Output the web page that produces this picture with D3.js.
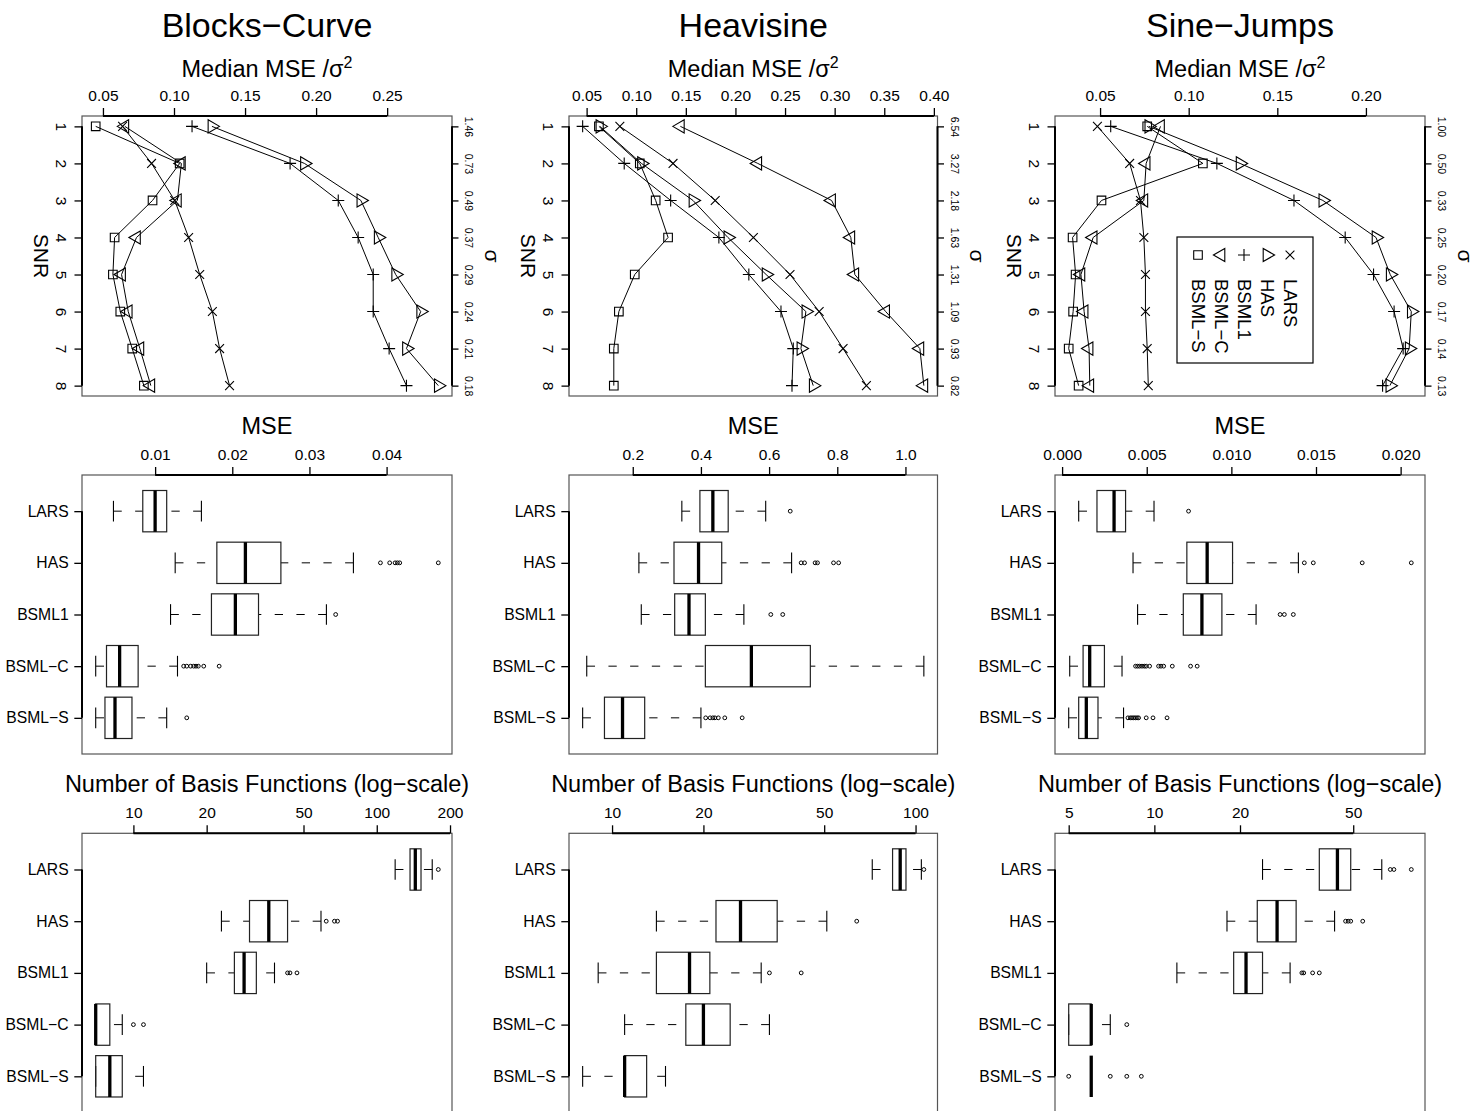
<!DOCTYPE html>
<html>
<head>
<meta charset="utf-8">
<script src="https://cdn.jsdelivr.net/npm/d3@7"></script>
<style>
  body { margin: 0; background: #fff; }
  svg { display: block; }
  text { font-family: "Liberation Sans", Arial, Helvetica, sans-serif; fill: #000; }
</style>
</head>
<body>
<svg id="chart" width="1479" height="1111"></svg>
<script>
// ---- data ----
var titles = ["Blocks−Curve", "Heavisine", "Sine−Jumps"];
var methods = ["LARS", "HAS", "BSML1", "BSML−C", "BSML−S"];
var snrLevels = [1, 2, 3, 4, 5, 6, 7, 8];

var sigmaBlocks = ["1.46", "0.73", "0.49", "0.37", "0.29", "0.24", "0.21", "0.18"];
var sigmaHeavi  = ["6.54", "3.27", "2.18", "1.63", "1.31", "1.09", "0.93", "0.82"];
var sigmaSine   = ["1.00", "0.50", "0.33", "0.25", "0.20", "0.17", "0.14", "0.13"];

// median MSE / sigma^2, one row per method (LARS, HAS, BSML1, BSML-C, BSML-S), SNR 1..8
var medBlocks = [
  [0.0638, 0.0842, 0.1005, 0.1103, 0.1181, 0.1270, 0.1321, 0.1391],
  [0.1267, 0.1918, 0.2315, 0.2437, 0.2560, 0.2736, 0.2636, 0.2860],
  [0.1127, 0.1817, 0.2156, 0.2296, 0.2402, 0.2402, 0.2514, 0.2636],
  [0.0654, 0.1052, 0.1024, 0.0736, 0.0631, 0.0678, 0.0760, 0.0837],
  [0.0449, 0.1040, 0.0849, 0.0582, 0.0570, 0.0622, 0.0706, 0.0788]
];
var medHeavi = [
  [0.0835, 0.1371, 0.1796, 0.2181, 0.2550, 0.2844, 0.3085, 0.3320],
  [0.0634, 0.1053, 0.1572, 0.1924, 0.2309, 0.2710, 0.2660, 0.2784],
  [0.0460, 0.0879, 0.1347, 0.1833, 0.2135, 0.2459, 0.2583, 0.2570],
  [0.1445, 0.2225, 0.2969, 0.3163, 0.3203, 0.3514, 0.3859, 0.3899],
  [0.0624, 0.1036, 0.1196, 0.1321, 0.0985, 0.0825, 0.0774, 0.0774]
];
var medSine = [
  [0.0485, 0.0667, 0.0728, 0.0747, 0.0756, 0.0756, 0.0766, 0.0772],
  [0.0775, 0.1290, 0.1757, 0.2057, 0.2137, 0.2256, 0.2244, 0.2135],
  [0.0560, 0.1159, 0.1594, 0.1883, 0.2043, 0.2159, 0.2210, 0.2094],
  [0.0841, 0.0760, 0.0747, 0.0461, 0.0392, 0.0410, 0.0438, 0.0442],
  [0.0766, 0.1080, 0.0508, 0.0345, 0.0362, 0.0348, 0.0323, 0.0379]
];
var medTicks = [
  [0.05, 0.10, 0.15, 0.20, 0.25],
  [0.05, 0.10, 0.15, 0.20, 0.25, 0.30, 0.35, 0.40],
  [0.05, 0.10, 0.15, 0.20]
];

// boxplot stats: [lower whisker, Q1, median, Q3, upper whisker]
var mseBlocks = [
  [0.0046, 0.0084, 0.0100, 0.0115, 0.0160],
  [0.0126, 0.0180, 0.0217, 0.0263, 0.0357],
  [0.0120, 0.0173, 0.0204, 0.0234, 0.0322],
  [0.0023, 0.0037, 0.0054, 0.0078, 0.0129],
  [0.0023, 0.0035, 0.0048, 0.0070, 0.0115]
];
var mseBlocksOut = [
  [],
  [0.0392, 0.0404, 0.0411, 0.0414, 0.0417, 0.0467],
  [0.0334],
  [0.0137, 0.0141, 0.0146, 0.0150, 0.0153, 0.0156, 0.0163, 0.0183],
  [0.0141]
];
var mseHeavi = [
  [0.344, 0.397, 0.435, 0.480, 0.590],
  [0.218, 0.321, 0.393, 0.461, 0.666],
  [0.225, 0.323, 0.365, 0.413, 0.526],
  [0.065, 0.413, 0.548, 0.721, 1.054],
  [0.053, 0.117, 0.170, 0.235, 0.400]
];
var mseHeaviOut = [
  [0.662],
  [0.694, 0.704, 0.735, 0.742, 0.789, 0.804],
  [0.605, 0.640],
  [],
  [0.414, 0.427, 0.435, 0.441, 0.451, 0.470, 0.521]
];
var mseSine = [
  [0.00098, 0.00206, 0.00307, 0.00375, 0.00543],
  [0.00419, 0.00737, 0.00857, 0.01007, 0.01396],
  [0.00446, 0.00716, 0.00826, 0.00944, 0.01146],
  [0.00045, 0.00124, 0.00163, 0.00250, 0.00354],
  [0.00039, 0.00098, 0.00143, 0.00212, 0.00363]
];
var mseSineOut = [
  [0.00747],
  [0.01431, 0.01484, 0.01773, 0.02063],
  [0.01288, 0.01313, 0.01366],
  [0.00434, 0.00446, 0.00458, 0.00472, 0.00486, 0.00497, 0.00517, 0.00570, 0.00584, 0.00600, 0.00651, 0.00759, 0.00798],
  [0.00389, 0.00403, 0.00413, 0.00423, 0.00433, 0.00443, 0.00452, 0.00497, 0.00537, 0.00620]
];
var mseTicks = [
  [0.01, 0.02, 0.03, 0.04],
  [0.2, 0.4, 0.6, 0.8, 1.0],
  [0.000, 0.005, 0.010, 0.015, 0.020]
];

var nbfBlocks = [
  [119, 137, 144, 152, 169],
  [23, 30, 36, 43, 59],
  [20, 26, 28.5, 32, 38],
  [7, 7, 7, 8, 9],
  [7, 7, 8, 9, 11]
];
var nbfBlocksOut = [[179], [62, 67, 69], [43, 44, 47], [10, 11], []];
var nbfHeavi = [
  [72, 84, 89, 93, 104.5],
  [14, 22, 26.5, 35, 51],
  [9, 14, 18, 21, 31],
  [11, 17.5, 20, 24.5, 33],
  [8, 11, 11, 13, 15]
];
var nbfHeaviOut = [[106.5], [64], [33, 42], [], []];
var nbfSine = [
  [24, 38, 44, 49, 63],
  [18, 23, 27, 31.5, 43],
  [12, 19, 21, 24, 30],
  [5, 5, 6, 6, 7],
  [6, 6, 6, 6, 6]
];
var nbfSineOut = [[67.5, 69.5, 80], [47, 48, 49, 54], [33, 33.5, 36, 38], [8], [5, 7, 8, 9]];
var nbfTicks = [
  [10, 20, 50, 100, 200],
  [10, 20, 50, 100],
  [5, 10, 20, 50]
];

// ---- layout ----
var svg = d3.select("#chart");
var colLeft = [82, 569, 1055], colRight = [452, 937.5, 1425];
var rowTop = [116, 475, 833.3], rowBottom = [396, 754, 1112.5];
var shapes = ["cross", "right", "plus", "left", "square"];
var FRAME = "#555";

// R style 4% padding of the range
function padded(lo, hi) {
  var r = hi - lo;
  return [lo - 0.04 * r, hi + 0.04 * r];
}

function symbolPath(shape, x, y) {
  var r;
  if (shape == "cross") {
    r = 4.4;
    return "M" + (x - r) + "," + (y - r) + "L" + (x + r) + "," + (y + r) +
           "M" + (x - r) + "," + (y + r) + "L" + (x + r) + "," + (y - r);
  }
  if (shape == "plus") {
    r = 6;
    return "M" + (x - r) + "," + y + "H" + (x + r) + "M" + x + "," + (y - r) + "V" + (y + r);
  }
  if (shape == "right" || shape == "left") {
    r = 7.6;
    var s = shape == "right" ? 1 : -1;
    return "M" + (x + s * r) + "," + y + "L" + (x - s * r / 2) + "," + (y - r * 0.866) +
           "L" + (x - s * r / 2) + "," + (y + r * 0.866) + "Z";
  }
  r = 4.3;
  return "M" + (x - r) + "," + (y - r) + "h" + 2 * r + "v" + 2 * r + "h" + (-2 * r) + "Z";
}

// clean up a d3 axis so it looks like base R
function styleAxis(g, fontSize) {
  g.attr("font-size", null).attr("font-family", null);
  g.select(".domain").remove();
  g.selectAll(".tick line").attr("stroke", "#000").attr("stroke-width", 1.3);
  g.selectAll(".tick text").style("font-size", fontSize + "px").attr("fill", "#000");
}

function frame(g, x0, x1, y0, y1) {
  g.append("rect")
      .attr("x", x0).attr("y", y0)
      .attr("width", x1 - x0).attr("height", y1 - y0)
      .attr("fill", "none")
      .attr("stroke", FRAME)
      .attr("stroke-width", 1.2);
}

function axisLine(g, xa, ya, xb, yb) {
  g.append("line")
      .attr("x1", xa).attr("y1", ya).attr("x2", xb).attr("y2", yb)
      .attr("stroke", "#000").attr("stroke-width", 2);
}

// column titles
titles.forEach(function(t, i) {
  svg.append("text")
      .attr("x", (colLeft[i] + colRight[i]) / 2)
      .attr("y", 37)
      .attr("text-anchor", "middle")
      .style("font-size", "34px")
      .text(t);
});

// ---- top row: median MSE / sigma^2 against SNR ----
function drawSNRPanel(i, series, sigma, ticks) {
  var x0 = colLeft[i], x1 = colRight[i], y0 = rowTop[0], y1 = rowBottom[0];
  var all = d3.merge(series);
  var x = d3.scaleLinear().domain(padded(d3.min(all), d3.max(all))).range([x0, x1]);
  var y = d3.scaleLinear().domain(padded(1, 8)).range([y0, y1]);
  var g = svg.append("g");

  frame(g, x0, x1, y0, y1);

  var top = g.append("g")
      .attr("transform", "translate(0," + y0 + ")")
      .call(d3.axisTop(x).tickValues(ticks).tickSize(8).tickPadding(7.5).tickFormat(d3.format(".2f")));
  styleAxis(top, 15.5);
  axisLine(g, x(ticks[0]), y0, x(ticks[ticks.length - 1]), y0);

  var left = g.append("g")
      .attr("transform", "translate(" + x0 + ",0)")
      .call(d3.axisLeft(y).tickValues(snrLevels).tickSize(7.5).tickFormat(d3.format("d")));
  styleAxis(left, 15.5);
  left.selectAll(".tick text")
      .attr("x", null).attr("dy", null)
      .attr("transform", "translate(-20.5,0) rotate(90)")
      .attr("text-anchor", "middle")
      .attr("dominant-baseline", "central");
  axisLine(g, x0, y(1), x0, y(8));

  var right = g.append("g")
      .attr("transform", "translate(" + x1 + ",0)")
      .call(d3.axisRight(y).tickValues(snrLevels).tickSize(6.5).tickFormat(function(d, k) { return sigma[k]; }));
  styleAxis(right, 10.5);
  right.selectAll(".tick text")
      .attr("x", null).attr("dy", null)
      .attr("transform", "translate(17,0) rotate(90)")
      .attr("text-anchor", "middle")
      .attr("dominant-baseline", "central");
  axisLine(g, x1, y(1), x1, y(8));

  var sub = g.append("text")
      .attr("x", (x0 + x1) / 2).attr("y", 77)
      .attr("text-anchor", "middle")
      .style("font-size", "23.5px");
  sub.append("tspan").text("Median MSE /σ");
  sub.append("tspan").attr("dy", -9).style("font-size", "16px").text("2");

  g.append("text")
      .attr("transform", "translate(" + (x0 - 41) + "," + ((y0 + y1) / 2) + ") rotate(90)")
      .attr("text-anchor", "middle")
      .attr("dominant-baseline", "central")
      .style("font-size", "21px")
      .text("SNR");
  g.append("text")
      .attr("transform", "translate(" + (x1 + 40) + "," + ((y0 + y1) / 2) + ") rotate(90)")
      .attr("text-anchor", "middle")
      .attr("dominant-baseline", "central")
      .style("font-size", "21px")
      .text("σ");

  var line = d3.line()
      .x(function(d) { return x(d); })
      .y(function(d, k) { return y(snrLevels[k]); });

  series.forEach(function(vals, m) {
    g.append("path")
        .attr("d", line(vals))
        .attr("fill", "none")
        .attr("stroke", "#000")
        .attr("stroke-width", 1);
    g.selectAll(null)
        .data(vals)
        .enter().append("path")
        .attr("d", function(d, k) { return symbolPath(shapes[m], x(d), y(snrLevels[k])); })
        .attr("fill", "none")
        .attr("stroke", "#000")
        .attr("stroke-width", 1.1);
  });
}

drawSNRPanel(0, medBlocks, sigmaBlocks, medTicks[0]);
drawSNRPanel(1, medHeavi, sigmaHeavi, medTicks[1]);
drawSNRPanel(2, medSine, sigmaSine, medTicks[2]);

// legend (right panel only), drawn rotated like the panel
var legend = svg.append("g");
legend.append("rect")
    .attr("x", 1177).attr("y", 237)
    .attr("width", 136).attr("height", 126)
    .attr("fill", "#fff")
    .attr("stroke", "#000")
    .attr("stroke-width", 1.2);
methods.forEach(function(m, k) {
  var lx = 1290 - k * 23;
  legend.append("path")
      .attr("d", symbolPath(shapes[k], lx, 255))
      .attr("fill", "none")
      .attr("stroke", "#000")
      .attr("stroke-width", 1.1);
  legend.append("text")
      .attr("transform", "translate(" + lx + ",279) rotate(90)")
      .attr("dominant-baseline", "central")
      .style("font-size", "18.5px")
      .text(m);
});

// ---- middle and bottom rows: boxplots ----
function drawBoxPanel(row, i, stats, outs, ticks, isLog, fmt, label) {
  var x0 = colLeft[i], x1 = colRight[i], y0 = rowTop[row], y1 = rowBottom[row];
  var vals = d3.merge(stats.concat(outs));
  var x;
  if (isLog) {
    var ld = padded(Math.log10(d3.min(vals)), Math.log10(d3.max(vals)));
    x = d3.scaleLog().domain([Math.pow(10, ld[0]), Math.pow(10, ld[1])]).range([x0, x1]);
  } else {
    x = d3.scaleLinear().domain(padded(d3.min(vals), d3.max(vals))).range([x0, x1]);
  }
  var y = d3.scaleLinear().domain([0.3, 5.7]).range([y0, y1]);
  var half = y(1.4) - y(1), staple = y(1.2) - y(1);
  var g = svg.append("g");

  frame(g, x0, x1, y0, y1);

  var top = g.append("g")
      .attr("transform", "translate(0," + y0 + ")")
      .call(d3.axisTop(x).tickValues(ticks).tickSize(8).tickPadding(7.5).tickFormat(fmt));
  styleAxis(top, 15.5);
  axisLine(g, x(ticks[0]), y0, x(ticks[ticks.length - 1]), y0);

  var left = g.append("g")
      .attr("transform", "translate(" + x0 + ",0)")
      .call(d3.axisLeft(y).tickValues([1, 2, 3, 4, 5]).tickSize(7.7).tickPadding(5.7)
          .tickFormat(function(d) { return methods[d - 1]; }));
  styleAxis(left, 15.7);
  axisLine(g, x0, y(1), x0, y(5));

  g.append("text")
      .attr("x", (x0 + x1) / 2)
      .attr("y", y0 - 41)
      .attr("text-anchor", "middle")
      .style("font-size", "23.5px")
      .text(label);

  var box = g.selectAll(".box")
      .data(stats)
      .enter().append("g")
      .attr("class", "box")
      .attr("transform", function(d, k) { return "translate(0," + y(k + 1) + ")"; });

  // dashed whiskers, drawn from the whisker end toward the box
  box.selectAll(".whisker")
      .data(function(d) { return [[d[0], d[1]], [d[4], d[3]]]; })
      .enter().append("line")
      .attr("x1", function(d) { return x(d[0]); })
      .attr("x2", function(d) { return x(d[1]); })
      .attr("y1", 0).attr("y2", 0)
      .attr("stroke", "#000")
      .attr("stroke-width", 1)
      .attr("stroke-dasharray", "8.3,13.4");

  box.selectAll(".staple")
      .data(function(d) { return [d[0], d[4]]; })
      .enter().append("line")
      .attr("x1", function(d) { return x(d); })
      .attr("x2", function(d) { return x(d); })
      .attr("y1", -staple).attr("y2", staple)
      .attr("stroke", "#000")
      .attr("stroke-width", 1.1);

  box.append("rect")
      .attr("x", function(d) { return x(d[1]); })
      .attr("width", function(d) { return x(d[3]) - x(d[1]); })
      .attr("y", -half)
      .attr("height", 2 * half)
      .attr("fill", "none")
      .attr("stroke", "#222")
      .attr("stroke-width", 1.2);

  box.append("line")
      .attr("x1", function(d) { return x(d[2]); })
      .attr("x2", function(d) { return x(d[2]); })
      .attr("y1", -half).attr("y2", half)
      .attr("stroke", "#000")
      .attr("stroke-width", 3.3);

  box.each(function(d, k) {
    d3.select(this).selectAll("circle")
        .data(outs[k])
        .enter().append("circle")
        .attr("cx", function(v) { return x(v); })
        .attr("cy", 0)
        .attr("r", 1.9)
        .attr("fill", "none")
        .attr("stroke", "#000")
        .attr("stroke-width", 1);
  });
}

var nbfLabel = "Number of Basis Functions (log−scale)";
drawBoxPanel(1, 0, mseBlocks, mseBlocksOut, mseTicks[0], false, d3.format(".2f"), "MSE");
drawBoxPanel(1, 1, mseHeavi, mseHeaviOut, mseTicks[1], false, d3.format(".1f"), "MSE");
drawBoxPanel(1, 2, mseSine, mseSineOut, mseTicks[2], false, d3.format(".3f"), "MSE");
drawBoxPanel(2, 0, nbfBlocks, nbfBlocksOut, nbfTicks[0], true, d3.format("d"), nbfLabel);
drawBoxPanel(2, 1, nbfHeavi, nbfHeaviOut, nbfTicks[1], true, d3.format("d"), nbfLabel);
drawBoxPanel(2, 2, nbfSine, nbfSineOut, nbfTicks[2], true, d3.format("d"), nbfLabel);
</script>
</body>
</html>
